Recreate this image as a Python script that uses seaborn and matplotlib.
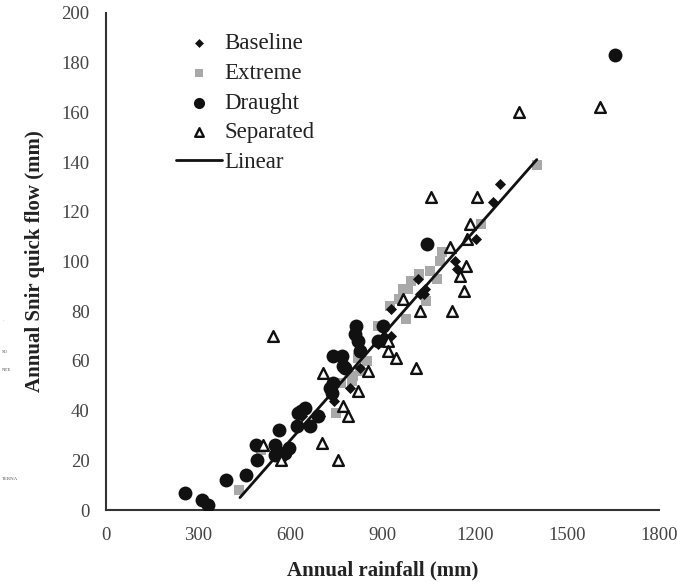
import numpy as np
import pandas as pd
import matplotlib
matplotlib.use("Agg")
import matplotlib.pyplot as plt
import seaborn as sns

# ----------------------------------------------------
# data (annual rainfall mm, quick flow mm)
# ----------------------------------------------------
baseline_x = [1281, 1260, 1204, 1141, 1134, 1014, 1035, 1020, 928, 926, 883,
              827, 792, 740, 694, 638, 575, 905, 1037]
baseline_y = [131, 124, 109, 97, 100, 93, 87, 87, 81, 70, 67,
              57, 49, 44, 38, 38, 21, 70, 89]

extreme_x = [1403, 1220, 1094, 1086, 1052, 1017, 1075, 982, 993, 954, 966,
             975, 1042, 923, 883, 847, 825, 803, 820, 798, 764, 749, 504, 431]
extreme_y = [139, 115, 104, 100, 96, 95, 93, 89, 92, 85, 89,
             77, 84, 82, 74, 60, 56, 54, 61, 52, 51, 39, 24, 8]

draught_x = [1656, 1045, 255, 313, 331, 391, 454, 487, 489, 548, 562, 594,
             635, 623, 648, 662, 689, 620, 733, 737, 766, 770, 776, 737, 727,
             814, 809, 819, 825, 901, 884, 549, 581]
draught_y = [183, 107, 7, 4, 2, 12, 14, 26, 20, 26, 32, 25,
             40, 39, 41, 34, 38, 34, 47, 62, 62, 58, 57, 51, 49,
             74, 71, 68, 64, 74, 68, 22, 23]

separated_x = [1606, 1343, 1056, 1206, 1183, 1174, 1118, 1172, 1151, 1164,
               1124, 1020, 966, 917, 917, 944, 1007, 851, 818, 771, 785,
               705, 543, 703, 754, 570, 510]
separated_y = [162, 160, 126, 126, 115, 109, 106, 98, 94, 88,
               80, 80, 85, 68, 64, 61, 57, 56, 48, 42, 38,
               55, 70, 27, 20, 20, 26]

linear_x = [435, 1401]
linear_y = [5, 141]

# ----------------------------------------------------
# figure
# ----------------------------------------------------
sns.set_style("white")
plt.rcParams['font.family'] = ['Liberation Serif', 'DejaVu Serif']

fig = plt.figure(figsize=(6.77, 5.82), dpi=100)
ax = fig.add_axes([0.157, 0.1237, 0.817, 0.854])

ink = '#111111'
grey = '#a9a9a9'

sns.scatterplot(x=baseline_x, y=baseline_y, marker='D', s=32, color=ink,
                edgecolor=ink, linewidth=0, label='Baseline', ax=ax, zorder=3)
sns.scatterplot(x=extreme_x, y=extreme_y, marker='s', s=60, color=grey,
                edgecolor=grey, linewidth=0, label='Extreme', ax=ax, zorder=2)
sns.scatterplot(x=draught_x, y=draught_y, marker='o', s=100, color=ink,
                edgecolor=ink, linewidth=0, label='Draught', ax=ax, zorder=3)
sns.scatterplot(x=separated_x, y=separated_y, marker='^', s=60, facecolor='white',
                edgecolor=ink, linewidth=1.7, label='Separated', ax=ax, zorder=4)
sns.lineplot(x=linear_x, y=linear_y, color=ink, linewidth=2.0, label='Linear',
             ax=ax, zorder=5)

ax.set_xlim(0, 1800)
ax.set_ylim(0, 200)
ax.set_xticks(np.arange(0, 1801, 300))
ax.set_yticks(np.arange(0, 201, 20))
for side in ['top', 'right']:
    ax.spines[side].set_visible(False)
for side in ['left', 'bottom']:
    ax.spines[side].set_color('#333333')
    ax.spines[side].set_linewidth(1.5)
ax.tick_params(axis='both', direction='out', length=7, width=1.5, color='#333333',
               labelsize=13.5, labelcolor='#444444', pad=5)

ax.set_xlabel('Annual rainfall (mm)', fontsize=15, fontweight='bold', color='#222222',
              labelpad=12)
ax.set_ylabel('Annual Snir quick flow (mm)', fontsize=15, fontweight='bold',
              color='#222222', labelpad=12)

leg = ax.legend(loc='upper left', bbox_to_anchor=(0.11, 0.978), frameon=False,
                fontsize=16.5, handlelength=2.0, handletextpad=0.1, labelspacing=0.38,
                markerscale=0.8, borderaxespad=0)
for t in leg.get_texts():
    t.set_color('#222222')

# scan remnants at the left edge
for yy, s in [(0.447, '·'), (0.394, 'SO'), (0.363, 'NTE'), (0.175, 'TERNA')]:
    fig.text(0.003, yy, s, fontsize=3.5, color='#555555')

fig.savefig('out.png', dpi=100)
